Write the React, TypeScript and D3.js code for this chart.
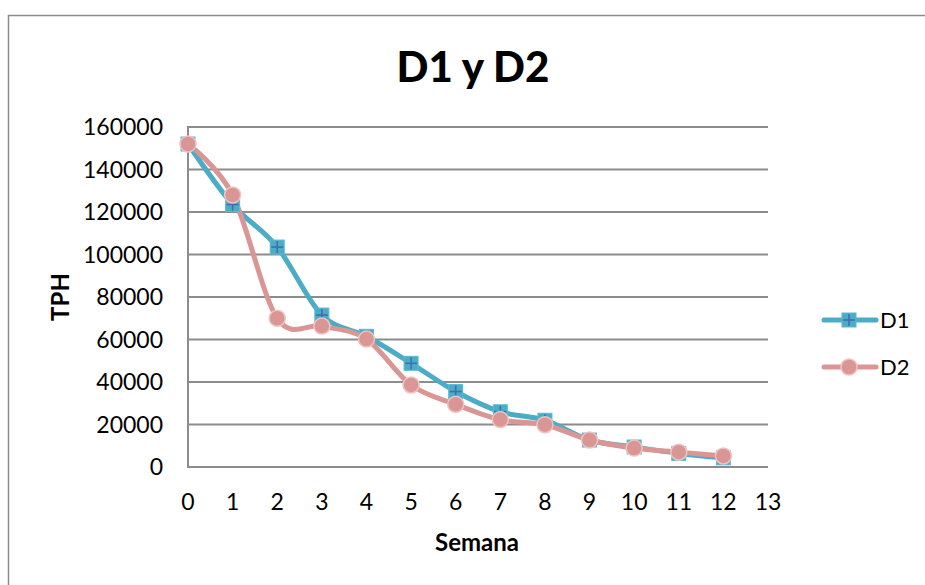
import React from "react";
import * as d3 from "d3";

const weeks = [0, 1, 2, 3, 4, 5, 6, 7, 8, 9, 10, 11, 12];
const d1Values = [152000, 123500, 103500, 71500, 61500, 48800, 35500, 26000, 22000, 12700, 9400, 6400, 4300];
const d2Values = [152000, 128000, 70000, 66300, 60200, 38600, 29500, 22300, 19900, 12700, 8900, 7000, 5200];
const yTicks = [0, 20000, 40000, 60000, 80000, 100000, 120000, 140000, 160000];
const xTicks = [0, 1, 2, 3, 4, 5, 6, 7, 8, 9, 10, 11, 12, 13];
const seriesNames = ["D1", "D2"];

const W = 925;
const H = 585;
const left = 188;
const right = 768;
const top = 127;
const bottom = 467;

const FONT = "Lato, 'Open Sans', sans-serif";
const C1 = "#4BACC6";
const C2 = "#D99694";

export default function App() {
  const x = d3.scaleLinear().domain([0, 13]).range([left, right]);
  const y = d3.scaleLinear().domain([0, 160000]).range([bottom, top]);
  const line = d3
    .line<number>()
    .x((_, i) => x(weeks[i]))
    .y((d) => y(d))
    .curve(d3.curveCatmullRom.alpha(0));

  const square = (cx: number, cy: number, key: string) => (
    <g key={key}>
      <rect x={cx - 7} y={cy - 7} width={14} height={14} fill={C1} stroke="#5cb9d2" strokeWidth={1} />
      <line x1={cx - 6} x2={cx + 6} y1={cy} y2={cy} stroke="#3f6fb3" strokeWidth={1.6} />
      <line x1={cx} x2={cx} y1={cy - 6} y2={cy + 6} stroke="#3f6fb3" strokeWidth={1.6} />
    </g>
  );
  const circle = (cx: number, cy: number, key: string) => (
    <circle key={key} cx={cx} cy={cy} r={8} fill={C2} stroke="#f0c3c1" strokeWidth={1.5} />
  );

  return (
    <svg
      width={W}
      height={H}
      style={{ position: "absolute", left: 0, top: 0, background: "#fff" }}
      fontFamily={FONT}
    >
      <rect x={8.5} y={15.5} width={W + 10} height={H + 10} fill="#fff" stroke="#8c8c8c" strokeWidth={1.5} />
      <text x={473} y={82} textAnchor="middle" fontSize={42} fontWeight={900} fill="#000">
        D1 y D2
      </text>
      {yTicks.map((t) => (
        <g key={"y" + t}>
          <line x1={left} x2={right} y1={y(t)} y2={y(t)} stroke="#8c8c8c" strokeWidth={2} />
          <text x={163} y={y(t)} dy="0.36em" textAnchor="end" fontSize={23} fill="#000">
            {t}
          </text>
        </g>
      ))}
      <line x1={left} x2={left} y1={top - 1} y2={bottom + 1} stroke="#8c8c8c" strokeWidth={2} />
      {xTicks.map((t) => (
        <text key={"x" + t} x={x(t)} y={510} textAnchor="middle" fontSize={23} fill="#000">
          {t}
        </text>
      ))}
      <text x={477} y={551} textAnchor="middle" fontSize={24} fontWeight="bold">
        Semana
      </text>
      <text
        transform={`translate(69,297) rotate(-90)`}
        textAnchor="middle"
        fontSize={24}
        fontWeight="bold"
      >
        TPH
      </text>
      <path d={line(d1Values) ?? ""} fill="none" stroke={C1} strokeWidth={5} strokeLinejoin="round" />
      <path d={line(d2Values) ?? ""} fill="none" stroke={C2} strokeWidth={5} strokeLinejoin="round" />
      {d1Values.map((v, i) => square(x(weeks[i]), y(v), "s" + i))}
      {d2Values.map((v, i) => circle(x(weeks[i]), y(v), "c" + i))}
      <g>
        <line x1={824} x2={876} y1={320} y2={320} stroke={C1} strokeWidth={5} strokeLinecap="round" />
        {square(849, 320, "l1")}
        <text x={880} y={320} dy="0.36em" fontSize={22}>{seriesNames[0]}</text>
        <line x1={824} x2={876} y1={367} y2={367} stroke={C2} strokeWidth={5} strokeLinecap="round" />
        {circle(849, 367, "l2")}
        <text x={880} y={367} dy="0.36em" fontSize={22}>{seriesNames[1]}</text>
      </g>
    </svg>
  );
}
